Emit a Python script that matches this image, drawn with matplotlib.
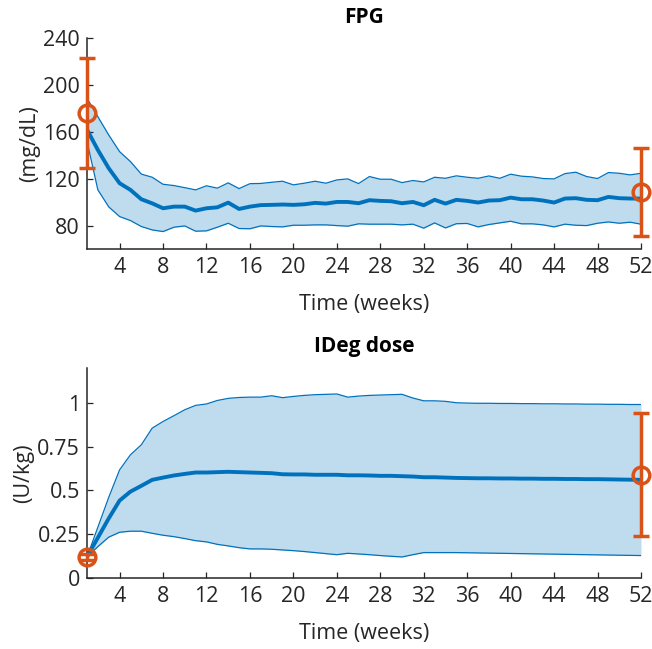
import numpy as np
import matplotlib
matplotlib.use('Agg')
import matplotlib.pyplot as plt

weeks = np.arange(1, 53)

fpg_mean = [162, 144.6, 129, 116.2, 110.5, 102.5, 99, 94.8, 96.2, 96.2,
            92.8, 94.8, 95.6, 99.6, 94.2, 96.2, 97.5, 97.7, 98, 97.7,
            98.2, 99.4, 98.8, 100.2, 100.2, 99.1, 101.7, 101.1, 100.8, 99.1,
            100.2, 97.4, 102, 98.8, 102, 101.1, 99.7, 101.4, 101.7, 103.9,
            102.5, 102.5, 101.4, 99.7, 103.1, 103.4, 102, 101.7, 104.5, 103.4,
            103.1, 103.1]
fpg_upper = [188.8, 173, 157.4, 143.2, 134.7, 124, 121.3, 115.3, 114.2, 112.4,
             110.5, 114, 112, 116.5, 111.6, 115.8, 116, 117, 117.9, 114.8,
             116.2, 117.9, 116.2, 119, 119.9, 115.9, 121.9, 119.6, 119.6, 116.7,
             118.5, 117.3, 121.3, 120.4, 122.5, 121.3, 120.4, 122.4, 120.4, 123.9,
             122.2, 121.6, 120.2, 119.9, 124.4, 125.6, 121.9, 120.2, 125.3, 124.7,
             123.3, 124.7]
fpg_lower = [152, 110.5, 96, 87.7, 84.3, 79.2, 76.3, 74.9, 78.6, 79.7,
             75.2, 75.5, 78.6, 82, 77.5, 77.3, 79.7, 79.2, 78.9, 80.3,
             80.3, 80.6, 80.6, 80, 79.5, 81.5, 81.2, 81.2, 81.2, 80.6,
             81.2, 77.8, 82.3, 78, 81.6, 81.8, 78.9, 80.9, 82.3, 83.7,
             81.5, 81.5, 80.6, 78.9, 81.2, 80.3, 80, 82, 83.1, 82,
             82.9, 81.2]

dose_mean = [0.12, 0.23, 0.34, 0.442, 0.493, 0.526, 0.56, 0.573, 0.585, 0.594,
             0.602, 0.602, 0.604, 0.606, 0.604, 0.602, 0.6, 0.598, 0.592, 0.591,
             0.591, 0.589, 0.589, 0.589, 0.586, 0.586, 0.585, 0.583, 0.583, 0.581,
             0.579, 0.575, 0.575, 0.573, 0.571, 0.570, 0.569, 0.569, 0.568, 0.568,
             0.567, 0.567, 0.566, 0.566, 0.565, 0.565, 0.564, 0.564, 0.563, 0.562,
             0.561, 0.560]
dose_upper = [0.12, 0.29, 0.46, 0.617, 0.703, 0.76, 0.855, 0.893, 0.926, 0.96,
              0.985, 0.993, 1.013, 1.025, 1.03, 1.032, 1.032, 1.04, 1.029, 1.036,
              1.042, 1.046, 1.048, 1.05, 1.032, 1.038, 1.042, 1.044, 1.046, 1.048,
              1.027, 1.011, 1.011, 1.008, 1.0, 0.998, 0.997, 0.997, 0.996, 0.996,
              0.995, 0.995, 0.994, 0.994, 0.993, 0.993, 0.992, 0.992, 0.991, 0.991,
              0.99, 0.99]
dose_lower = [0.12, 0.179, 0.233, 0.261, 0.267, 0.267, 0.255, 0.244, 0.236, 0.225,
              0.213, 0.206, 0.192, 0.183, 0.173, 0.166, 0.166, 0.164, 0.16, 0.156,
              0.151, 0.145, 0.139, 0.133, 0.141, 0.137, 0.133, 0.128, 0.124, 0.12,
              0.133, 0.145, 0.145, 0.145, 0.145, 0.144, 0.143, 0.142, 0.141, 0.140,
              0.139, 0.138, 0.137, 0.136, 0.135, 0.134, 0.133, 0.132, 0.131, 0.130,
              0.129, 0.128]

obs_weeks = [1, 52]
fpg_obs_mean = [176.5, 108.5]
fpg_obs_sd = [47, 37.5]
dose_obs_mean = [0.12, 0.59]
dose_obs_sd = [0.018, 0.35]

xticks = list(range(4, 53, 4))
fpg_yticks = [80, 120, 160, 200, 240]
dose_yticks = [0, 0.25, 0.5, 0.75, 1]
dose_yticklabels = ['0', '0.25', '0.5', '0.75', '1']

plt.rcParams['font.family'] = ['Open Sans', 'DejaVu Sans']

BLUE = '#0072BD'
ORANGE = '#D95319'
DARK = '#262626'
FS = 15.5

fig = plt.figure(figsize=(6.52, 6.49), dpi=100)
ax1 = fig.add_axes([87 / 652, 1 - 249 / 649, (641 - 87) / 652, (249 - 38.3) / 649])
ax2 = fig.add_axes([87 / 652, 1 - 578 / 649, (641 - 87) / 652, (578 - 367.7) / 649])


def panel(ax, mean, lo, hi, om, osd, title, ylabel, ylim, yticks, yticklabels):
    ax.fill_between(weeks, lo, hi, color=BLUE, alpha=0.25, linewidth=0, zorder=1)
    ax.plot(weeks, hi, color=BLUE, lw=0.9, zorder=2)
    ax.plot(weeks, lo, color=BLUE, lw=0.9, zorder=2)
    ax.plot(weeks, mean, color=BLUE, lw=2.8, zorder=3)
    eb = ax.errorbar(obs_weeks, om, yerr=osd, fmt='o', color=ORANGE, mfc='none',
                     mec=ORANGE, ms=12, mew=2.5, elinewidth=2.5, capsize=6,
                     capthick=2.5, zorder=5)
    for a in [eb[0], *eb[1], *eb[2]]:
        a.set_clip_on(False)
    ax.set_xlim(1, 52)
    ax.set_ylim(*ylim)
    ax.set_xticks(xticks)
    ax.set_yticks(yticks)
    ax.set_yticklabels(yticklabels)
    for s in ['top', 'right']:
        ax.spines[s].set_visible(False)
    for s in ['left', 'bottom']:
        ax.spines[s].set_linewidth(1.1)
        ax.spines[s].set_color(DARK)
    ax.tick_params(axis='both', direction='in', length=4.5, width=0.9,
                   colors=DARK, labelsize=FS)
    ax.tick_params(axis='x', pad=6)
    ax.tick_params(axis='y', pad=5)
    ax.set_xlabel('Time (weeks)', fontsize=FS, color=DARK, labelpad=11)
    ax.set_ylabel(ylabel, fontsize=FS, color=DARK, labelpad=2)
    ax.set_title(title, fontsize=15, fontweight='bold', color='black', pad=11)


panel(ax1, fpg_mean, fpg_lower, fpg_upper, fpg_obs_mean, fpg_obs_sd,
      'FPG', '(mg/dL)', (60, 240), fpg_yticks, [str(v) for v in fpg_yticks])
panel(ax2, dose_mean, dose_lower, dose_upper, dose_obs_mean, dose_obs_sd,
      'IDeg dose', '(U/kg)', (0, 1.2), dose_yticks, dose_yticklabels)

fig.savefig('out.png', dpi=100)
